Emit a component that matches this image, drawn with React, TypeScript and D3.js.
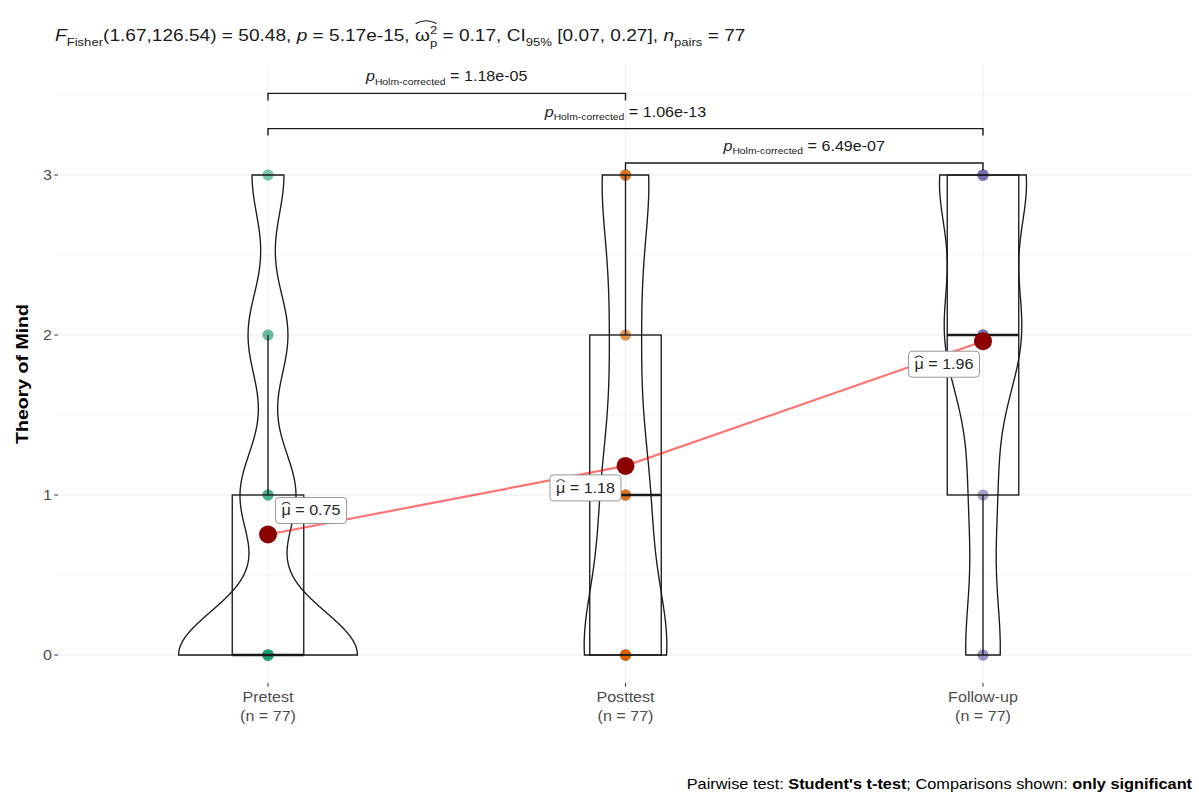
import React, { useEffect, useRef } from 'react';
import * as d3 from 'd3';

// ---- data -------------------------------------------------------------
const conditions = ['Pretest', 'Posttest', 'Follow-up'];
const scoreLevels = [0, 1, 2, 3];
// number of participants at each Theory of Mind score (0, 1, 2, 3)
const pretestCounts = [45, 14, 10, 8];
const posttestCounts = [32, 17, 10, 18];
const followUpCounts = [12, 9, 26, 30];
const conditionColors = ['#1B9E77', '#D95F02', '#7570B3'];
const yTickValues = [0, 1, 2, 3];
const yMinorValues = [0.5, 1.5, 2.5, 3.5];
// significant pairwise comparisons (Holm-corrected)
const pairFrom = ['Pretest', 'Pretest', 'Posttest'];
const pairTo = ['Posttest', 'Follow-up', 'Follow-up'];
const pairLevels = [3.51, 3.29, 3.075];
const pairPValues = ['1.18e-05', '1.06e-13', '6.49e-07'];

// ---- layout -----------------------------------------------------------
const W = 1199;
const H = 793;
const panel = { left: 58, right: 1192, top: 65, bottom: 683 };
const FONT = "'Liberation Sans', Arial, Helvetica, sans-serif";
const SX = 1.15; // horizontal stretch applied to all text
const meanLabelOffsets = [
  [43, -24],
  [-40, 22],
  [-39, 23],
];

type Seg = {
  t: string;
  size: number;
  italic?: boolean;
  bold?: boolean;
  dy?: number;
  stack?: boolean; // placed at the same x as the previous segment
  hat?: { span: number; base: number; rise: number };
};

// lays out a run of differently styled text pieces; returns the group and its drawn width
function richText(parent: any, segs: Seg[], fill: string) {
  const g = parent.append('g');
  let x = 0;
  let prevStart = 0;
  let prevW = 0;
  let hatOpen: null | { x0: number; left: number; base: number; rise: number } = null;
  segs.forEach((s) => {
    const startX = s.stack ? prevStart : x;
    const t = g
      .append('text')
      .attr('x', startX)
      .attr('y', s.dy || 0)
      .attr('font-size', s.size)
      .attr('font-style', s.italic ? 'italic' : 'normal')
      .attr('font-weight', s.bold ? 'bold' : 'normal')
      .attr('fill', fill)
      .text(s.t.replace(/ /g, '\u00A0'));
    const w = (t.node() as SVGTextElement).getComputedTextLength();
    x = s.stack ? startX + Math.max(prevW, w) : startX + w;
    prevStart = startX;
    prevW = w;
    if (s.hat) hatOpen = { x0: startX, left: s.hat.span, base: s.hat.base, rise: s.hat.rise };
    if (hatOpen) {
      hatOpen.left -= 1;
      if (hatOpen.left === 0) {
        const x0 = hatOpen.x0 + 0.5;
        const x1 = x - 0.5;
        g.append('path')
          .attr(
            'd',
            `M${x0},${hatOpen.base} Q${(x0 + x1) / 2},${hatOpen.base - 2 * hatOpen.rise} ${x1},${hatOpen.base}`
          )
          .attr('fill', 'none')
          .attr('stroke', fill)
          .attr('stroke-width', 0.9);
        hatOpen = null;
      }
    }
  });
  return { g, width: x * SX };
}

// places a rich-text group so that its left edge is at x and baseline at y
function place(rt: { g: any }, x: number, y: number) {
  rt.g.attr('transform', `translate(${x},${y}) scale(${SX},1)`);
}

function nrd0(sorted: number[]) {
  const sd = d3.deviation(sorted) as number;
  const iqr = (d3.quantile(sorted, 0.75) as number) - (d3.quantile(sorted, 0.25) as number);
  const lo = Math.min(sd, iqr / 1.34);
  return 0.9 * lo * Math.pow(sorted.length, -0.2);
}

export default function App() {
  const ref = useRef<SVGSVGElement>(null);

  useEffect(() => {
    const svg = d3.select(ref.current);
    svg.selectAll('*').remove();

    const countsByCondition = [pretestCounts, posttestCounts, followUpCounts];

    const x = d3.scalePoint<string>().domain(conditions).range([268, 983]);
    const unit = (x(conditions[1]) as number) - (x(conditions[0]) as number);
    const y = d3.scaleLinear().domain([0, 3]).range([655, 175]);

    // per-condition summaries and kernel density (gaussian, nrd0 bandwidth, trimmed)
    const groups = conditions.map((name, i) => {
      const values = scoreLevels.flatMap((s, k) => d3.range(countsByCondition[i][k]).map(() => s));
      const sorted = values.slice().sort(d3.ascending);
      const q1 = d3.quantile(sorted, 0.25) as number;
      const med = d3.quantile(sorted, 0.5) as number;
      const q3 = d3.quantile(sorted, 0.75) as number;
      const iqr = q3 - q1;
      const upper = d3.max(sorted.filter((v) => v <= q3 + 1.5 * iqr)) as number;
      const lower = d3.min(sorted.filter((v) => v >= q1 - 1.5 * iqr)) as number;
      const bw = nrd0(sorted);
      const lo = sorted[0];
      const hi = sorted[sorted.length - 1];
      const grid = d3.range(512).map((j) => lo + (j * (hi - lo)) / 511);
      const dens = grid.map((t) => ({
        t,
        d: (d3.mean(sorted, (v) => Math.exp(-0.5 * ((t - v) / bw) ** 2) / Math.sqrt(2 * Math.PI)) as number) / bw,
      }));
      return {
        name,
        color: conditionColors[i],
        values: sorted,
        q1,
        med,
        q3,
        upper,
        lower,
        mean: d3.mean(sorted) as number,
        dens,
        n: sorted.length,
      };
    });
    const maxDens = d3.max(groups, (g) => d3.max(g.dens, (p) => p.d)) as number;

    const root = svg.append('g').attr('font-family', FONT);
    const ink = '#1A1A1A';
    const lw = 1.35;

    // ---- grid ----
    const grid = root.append('g');
    grid
      .selectAll('line.minor')
      .data(yMinorValues)
      .join('line')
      .attr('x1', panel.left)
      .attr('x2', panel.right)
      .attr('y1', (d) => y(d))
      .attr('y2', (d) => y(d))
      .attr('stroke', '#F2F2F2')
      .attr('stroke-width', 0.8);
    grid
      .selectAll('line.major')
      .data(yTickValues)
      .join('line')
      .attr('x1', panel.left)
      .attr('x2', panel.right)
      .attr('y1', (d) => y(d))
      .attr('y2', (d) => y(d))
      .attr('stroke', '#EBEBEB')
      .attr('stroke-width', 1.1);
    grid
      .selectAll('line.vmajor')
      .data(conditions)
      .join('line')
      .attr('x1', (d) => x(d) as number)
      .attr('x2', (d) => x(d) as number)
      .attr('y1', panel.top)
      .attr('y2', panel.bottom)
      .attr('stroke', '#EFEFEF')
      .attr('stroke-width', 1.1);

    // ---- axes ----
    const axisCol = '#4D4D4D';
    const tickSize = 14;
    root
      .append('g')
      .selectAll('line')
      .data(yTickValues)
      .join('line')
      .attr('x1', panel.left - 3.7)
      .attr('x2', panel.left)
      .attr('y1', (d) => y(d))
      .attr('y2', (d) => y(d))
      .attr('stroke', '#333')
      .attr('stroke-width', 1);
    root
      .append('g')
      .selectAll('text')
      .data(yTickValues)
      .join('text')
      .attr('transform', (d) => `translate(${panel.left - 6},${y(d) + 5}) scale(${SX},1)`)
      .attr('text-anchor', 'end')
      .attr('font-size', tickSize)
      .attr('fill', axisCol)
      .text((d) => String(d));
    root
      .append('g')
      .selectAll('line')
      .data(conditions)
      .join('line')
      .attr('x1', (d) => x(d) as number)
      .attr('x2', (d) => x(d) as number)
      .attr('y1', panel.bottom)
      .attr('y2', panel.bottom + 3.7)
      .attr('stroke', '#333')
      .attr('stroke-width', 1);
    const xl = root
      .append('g')
      .selectAll('text')
      .data(groups)
      .join('text')
      .attr('transform', (d) => `translate(${x(d.name)},0) scale(${SX},1)`)
      .attr('text-anchor', 'middle')
      .attr('font-size', tickSize)
      .attr('fill', axisCol);
    xl.append('tspan')
      .attr('x', 0)
      .attr('y', 702)
      .text((d) => d.name);
    xl.append('tspan')
      .attr('x', 0)
      .attr('y', 721.5)
      .text((d) => `(n = ${d.n})`);
    root
      .append('text')
      .attr('transform', `translate(22,${(panel.top + panel.bottom) / 2}) rotate(-90) scale(${SX},1)`)
      .attr('text-anchor', 'middle')
      .attr('dominant-baseline', 'central')
      .attr('font-size', 17)
      .attr('font-weight', 'bold')
      .attr('fill', '#000')
      .text('Theory of Mind');

    // ---- observations ----
    const pts = root.append('g');
    groups.forEach((g) => {
      pts
        .selectAll(null)
        .data(g.values)
        .join('circle')
        .attr('cx', x(g.name) as number)
        .attr('cy', (v) => y(v))
        .attr('r', 5.5)
        .attr('fill', g.color)
        .attr('fill-opacity', 0.1);
    });

    // ---- box plots ----
    const boxHalf = 0.1 * unit;
    groups.forEach((g) => {
      const cx = x(g.name) as number;
      const bg = root.append('g').attr('stroke', ink).attr('fill', 'none');
      if (g.upper > g.q3)
        bg.append('line').attr('x1', cx).attr('x2', cx).attr('y1', y(g.q3)).attr('y2', y(g.upper)).attr('stroke-width', lw);
      if (g.lower < g.q1)
        bg.append('line').attr('x1', cx).attr('x2', cx).attr('y1', y(g.q1)).attr('y2', y(g.lower)).attr('stroke-width', lw);
      bg.append('rect')
        .attr('x', cx - boxHalf)
        .attr('y', y(g.q3))
        .attr('width', 2 * boxHalf)
        .attr('height', y(g.q1) - y(g.q3))
        .attr('stroke-width', lw);
      bg.append('line')
        .attr('x1', cx - boxHalf)
        .attr('x2', cx + boxHalf)
        .attr('y1', y(g.med))
        .attr('y2', y(g.med))
        .attr('stroke-width', 2.5);
    });

    // ---- violins (area-scaled, width 0.5) ----
    groups.forEach((g) => {
      const cx = x(g.name) as number;
      const half = (d: { d: number }) => (d.d / maxDens) * 0.25 * unit;
      const area = d3
        .area<{ t: number; d: number }>()
        .y((p) => y(p.t))
        .x0((p) => cx - half(p))
        .x1((p) => cx + half(p));
      root
        .append('path')
        .attr('d', area(g.dens) as string)
        .attr('fill', 'none')
        .attr('stroke', ink)
        .attr('stroke-width', lw);
    });

    // ---- means ----
    const line = d3
      .line<(typeof groups)[number]>()
      .x((g) => x(g.name) as number)
      .y((g) => y(g.mean));
    root
      .append('path')
      .attr('d', line(groups) as string)
      .attr('fill', 'none')
      .attr('stroke', 'red')
      .attr('stroke-opacity', 0.55)
      .attr('stroke-width', 2.2);
    root
      .append('g')
      .selectAll('circle')
      .data(groups)
      .join('circle')
      .attr('cx', (g) => x(g.name) as number)
      .attr('cy', (g) => y(g.mean))
      .attr('r', 9)
      .attr('fill', '#8B0000');

    groups.forEach((g, i) => {
      const cx = (x(g.name) as number) + meanLabelOffsets[i][0];
      const cy = y(g.mean) + meanLabelOffsets[i][1];
      const lab = root.append('g');
      const rect = lab.append('rect');
      const rt = richText(
        lab,
        [
          { t: 'μ', size: 14, hat: { span: 1, base: -11, rise: 2.3 } },
          { t: ' = ' + g.mean.toFixed(2), size: 14 },
        ],
        '#262626'
      );
      const pad = 6;
      const bh = 26;
      rect
        .attr('x', cx - rt.width / 2 - pad)
        .attr('y', cy - bh / 2)
        .attr('width', rt.width + 2 * pad)
        .attr('height', bh)
        .attr('rx', 3.5)
        .attr('fill', '#fff')
        .attr('stroke', '#8C8C8C')
        .attr('stroke-width', 0.9);
      place(rt, cx - rt.width / 2, cy + 5);
    });

    // ---- pairwise comparison brackets ----
    const tip = 7;
    pairLevels.forEach((lvl, i) => {
      const x1 = x(pairFrom[i]) as number;
      const x2 = x(pairTo[i]) as number;
      const yl = y(lvl);
      root
        .append('path')
        .attr('d', `M${x1},${yl + tip} L${x1},${yl} L${x2},${yl} L${x2},${yl + tip}`)
        .attr('fill', 'none')
        .attr('stroke', ink)
        .attr('stroke-width', 1.4);
      const rt = richText(
        root,
        [
          { t: 'p', size: 14, italic: true },
          { t: 'Holm-corrected', size: 9, dy: 3.3 },
          { t: ' = ' + pairPValues[i], size: 14 },
        ],
        ink
      );
      place(rt, (x1 + x2) / 2 - rt.width / 2, yl - 12);
    });

    // ---- title ----
    const ts = 16.6;
    const ss = 11.4;
    const title = richText(
      root,
      [
        { t: 'F', size: ts, italic: true },
        { t: 'Fisher', size: ss, dy: 4.5 },
        { t: '(1.67,126.54) = 50.48, ', size: ts },
        { t: 'p', size: ts, italic: true },
        { t: ' = 5.17e-15, ', size: ts },
        { t: 'ω', size: ts, hat: { span: 3, base: -17.5, rise: 2.8 } },
        { t: '2', size: ss, dy: -7.5 },
        { t: 'p', size: ss, dy: 5.5, stack: true },
        { t: ' = 0.17, CI', size: ts },
        { t: '95%', size: ss, dy: 4.5 },
        { t: ' [0.07, 0.27], ', size: ts },
        { t: 'n', size: ts, italic: true },
        { t: 'pairs', size: ss, dy: 4.5 },
        { t: ' = 77', size: ts },
      ],
      ink
    );
    place(title, 55, 41);

    // ---- caption ----
    const cap = richText(
      root,
      [
        { t: 'Pairwise test: ', size: 14.2 },
        { t: "Student's t-test", size: 14.2, bold: true },
        { t: '; Comparisons shown: ', size: 14.2 },
        { t: 'only significant', size: 14.2, bold: true },
      ],
      '#000'
    );
    place(cap, panel.right - cap.width, 789);
  }, []);

  return (
    <svg
      ref={ref}
      width={W}
      height={H}
      style={{ position: 'absolute', left: 0, top: 0, background: '#fff' }}
    />
  );
}
